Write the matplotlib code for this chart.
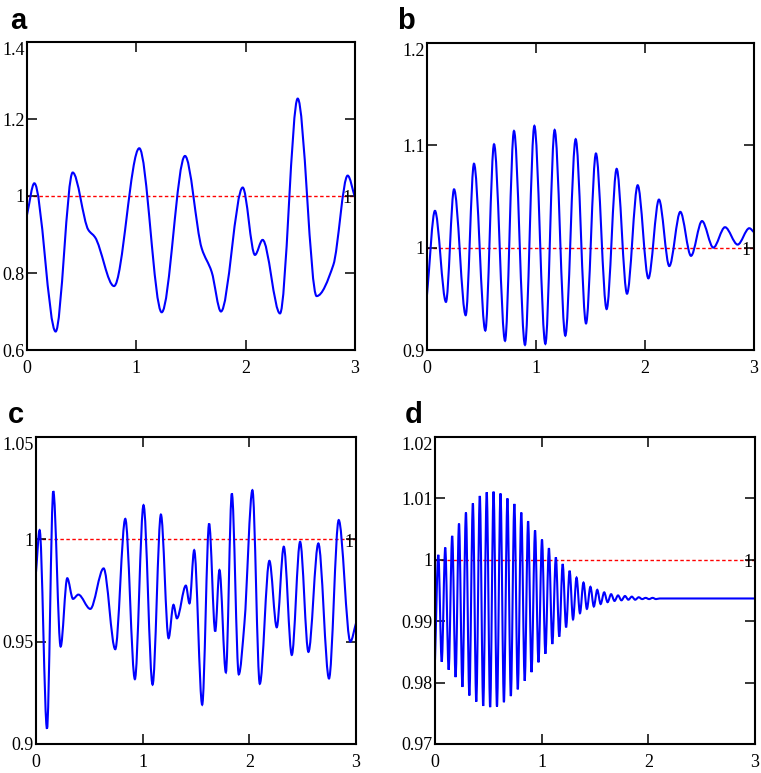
import numpy as np
import matplotlib
matplotlib.use("Agg")
import matplotlib.pyplot as plt
from matplotlib.path import Path
from matplotlib.patches import PathPatch

# ---- data (extrema and shoulder points) ----
a_x = [0.0, 0.067, 0.262, 0.418, 0.561, 0.622, 0.796, 1.027, 1.232, 1.445, 1.598,
       1.689, 1.774, 1.973, 2.085, 2.155, 2.314, 2.476, 2.649, 2.802, 2.933, 3.0]
a_y = [0.951, 1.033, 0.648, 1.061, 0.912, 0.893, 0.766, 1.124, 0.698, 1.104, 0.864,
       0.803, 0.700, 1.022, 0.847, 0.886, 0.695, 1.253, 0.740, 0.821, 1.053, 0.996]

b_x = [0.0, 0.073, 0.174, 0.248, 0.355, 0.431, 0.535, 0.615, 0.716, 0.798, 0.899,
       0.985, 1.086, 1.171, 1.269, 1.364, 1.459, 1.550, 1.648, 1.740, 1.835, 1.933,
       2.031, 2.128, 2.223, 2.324, 2.422, 2.523, 2.627, 2.734, 2.850, 2.957, 3.0]
b_y = [0.954, 1.036, 0.947, 1.057, 0.934, 1.082, 0.919, 1.101, 0.909, 1.114, 0.905,
       1.119, 0.906, 1.115, 0.914, 1.106, 0.926, 1.092, 0.940, 1.077, 0.955, 1.061,
       0.970, 1.047, 0.982, 1.035, 0.992, 1.026, 1.000, 1.020, 1.003, 1.019, 1.015]

c_x = [0.0, 0.034, 0.103, 0.162, 0.231, 0.293, 0.347, 0.397, 0.509, 0.634, 0.743,
       0.837, 0.927, 1.008, 1.093, 1.171, 1.243, 1.289, 1.321, 1.405, 1.439, 1.483,
       1.558, 1.623, 1.680, 1.720, 1.780, 1.836, 1.901, 1.954, 2.029, 2.098, 2.188,
       2.257, 2.323, 2.398, 2.476, 2.554, 2.647, 2.747, 2.838, 2.947, 3.0]
c_y = [0.984, 1.0045, 0.9075, 1.0235, 0.9476, 0.981, 0.9709, 0.973, 0.966, 0.9858, 0.9463,
       1.010, 0.9317, 1.0167, 0.929, 1.0121, 0.9517, 0.968, 0.9614, 0.9774, 0.9687, 0.9947,
       0.9192, 1.0077, 0.955, 0.985, 0.935, 1.0224, 0.934, 0.959, 1.024, 0.9294, 0.9895,
       0.957, 0.9964, 0.9435, 0.9988, 0.945, 0.998, 0.932, 1.0094, 0.950, 0.959]

d_start = (0.0, 0.9837)
d_peak_x = [0.031, 0.096, 0.161, 0.225, 0.290, 0.355, 0.420, 0.485, 0.549, 0.614,
            0.679, 0.744, 0.809, 0.873, 0.938, 1.003, 1.068, 1.133, 1.197, 1.262,
            1.327, 1.392, 1.457, 1.521, 1.586, 1.651, 1.716, 1.781, 1.845, 1.910,
            1.975, 2.040, 2.105]
d_peak_y = [1.0008, 1.0020, 1.0039, 1.0059, 1.0077, 1.0092, 1.0104, 1.0110, 1.0111, 1.0108,
            1.0100, 1.0091, 1.0077, 1.0063, 1.0048, 1.0033, 1.0019, 1.0004, 0.9993, 0.9982,
            0.9971, 0.9963, 0.9956, 0.9951, 0.9947, 0.9944, 0.9942, 0.9941, 0.9940, 0.9939,
            0.9938, 0.9938, 0.9937]
d_trough_x = [0.063, 0.128, 0.193, 0.257, 0.322, 0.387, 0.452, 0.517, 0.581, 0.646,
              0.711, 0.776, 0.841, 0.905, 0.970, 1.035, 1.100, 1.165, 1.229, 1.294,
              1.359, 1.424, 1.489, 1.553, 1.618, 1.683, 1.748, 1.813, 1.877, 1.942,
              2.007, 2.072, 2.137]
d_trough_y = [0.9834, 0.9821, 0.9809, 0.9793, 0.9779, 0.9769, 0.9762, 0.9760, 0.9761, 0.9768,
              0.9778, 0.9789, 0.9803, 0.9817, 0.9833, 0.9847, 0.9863, 0.9875, 0.9890, 0.9903,
              0.9913, 0.9920, 0.9924, 0.9928, 0.9931, 0.9933, 0.9934, 0.9935, 0.9935, 0.9936,
              0.9936, 0.9936, 0.9937]
d_end_x = [2.3, 3.0]
d_end_y = [0.9937, 0.9937]

panels = ["a", "b", "c", "d"]
ylims = [(0.6, 1.4), (0.9, 1.2), (0.9, 1.05), (0.97, 1.02)]
yticks = [[0.6, 0.8, 1.0, 1.2, 1.4],
          [0.9, 1.0, 1.1, 1.2],
          [0.9, 0.95, 1.0, 1.05],
          [0.97, 0.98, 0.99, 1.0, 1.01, 1.02]]
ylabels = [["0.6", "0.8", "1", "1.2", "1.4"],
           ["0.9", "1", "1.1", "1.2"],
           ["0.9", "0.95", "1", "1.05"],
           ["0.97", "0.98", "0.99", "1", "1.01", "1.02"]]
xticks = [0, 1, 2, 3]
xlabels = ["0", "1", "2", "3"]

# d: interleave peaks and troughs
dx = np.empty(len(d_peak_x) * 2)
dy = np.empty(len(d_peak_x) * 2)
dx[0::2], dx[1::2] = d_peak_x, d_trough_x
dy[0::2], dy[1::2] = d_peak_y, d_trough_y
d_x = np.concatenate([[d_start[0]], dx, d_end_x])
d_y = np.concatenate([[d_start[1]], dy, d_end_y])

curves = [(a_x, a_y), (b_x, b_y), (c_x, c_y), (d_x, d_y)]


def smooth_line(ax, xs, ys, **kw):
    # monotone cubic (Hermite) through the read points, drawn as a bezier path
    x = np.asarray(xs, float)
    y = np.asarray(ys, float)
    h = np.diff(x)
    s = np.diff(y) / h
    m = np.zeros_like(x)
    m[0], m[-1] = s[0], s[-1]
    for k in range(1, len(x) - 1):
        if s[k - 1] * s[k] > 0:
            w1 = 2 * h[k] + h[k - 1]
            w2 = h[k] + 2 * h[k - 1]
            m[k] = (w1 + w2) / (w1 / s[k - 1] + w2 / s[k])
    verts = [(x[0], y[0])]
    codes = [Path.MOVETO]
    for k in range(len(x) - 1):
        verts += [(x[k] + h[k] / 3, y[k] + m[k] * h[k] / 3),
                  (x[k + 1] - h[k] / 3, y[k + 1] - m[k + 1] * h[k] / 3),
                  (x[k + 1], y[k + 1])]
        codes += [Path.CURVE4] * 3
    ax.add_patch(PathPatch(Path(verts, codes), fill=False, **kw))


plt.rcParams['font.family'] = ['Liberation Serif', 'DejaVu Serif']

W, H = 761, 773
fig = plt.figure(figsize=(W / 100, H / 100), dpi=100)

# axes boxes in pixels: left, top, right, bottom
boxes = [(27, 42, 355, 350), (427, 43, 754, 350),
         (36, 437, 356, 744), (435, 437, 755, 744)]
letter_pos = [(10, 29), (397, 29), (8, 423), (405, 423)]

for i, name in enumerate(panels):
    l, t, r, b = boxes[i]
    ax = fig.add_axes([l / W, 1 - b / H, (r - l) / W, (b - t) / H])
    ax.set_xlim(0, 3)
    ax.set_ylim(*ylims[i])
    ax.axhline(1.0, color='red', lw=1.0, ls=(0, (2.5, 1.8)), zorder=1)
    smooth_line(ax, curves[i][0], curves[i][1], edgecolor='#0000ff', lw=1.5, zorder=2)
    ax.annotate("1", xy=(2.93, 1.0), xytext=(0, -2), textcoords='offset points',
                ha='center', va='center', fontsize=13, color='black')

    ax.set_xticks(xticks)
    ax.set_xticklabels(xlabels)
    ax.set_yticks(yticks[i])
    ax.set_yticklabels(ylabels[i])
    ax.yaxis.get_ticklabels()[-1].set_verticalalignment('top')
    ax.tick_params(direction='in', length=7, width=1.1, top=True, right=True,
                   labelsize=13, color='black')
    ax.tick_params(axis='x', pad=7)
    ax.tick_params(axis='y', pad=1.5)
    for sp in ax.spines.values():
        sp.set_linewidth(1.5)

    lx, ly = letter_pos[i]
    fig.text(lx / W, 1 - ly / H, name, family='Liberation Sans', weight='bold',
             fontsize=21, ha='left', va='baseline')

fig.savefig("out.png", dpi=100)
